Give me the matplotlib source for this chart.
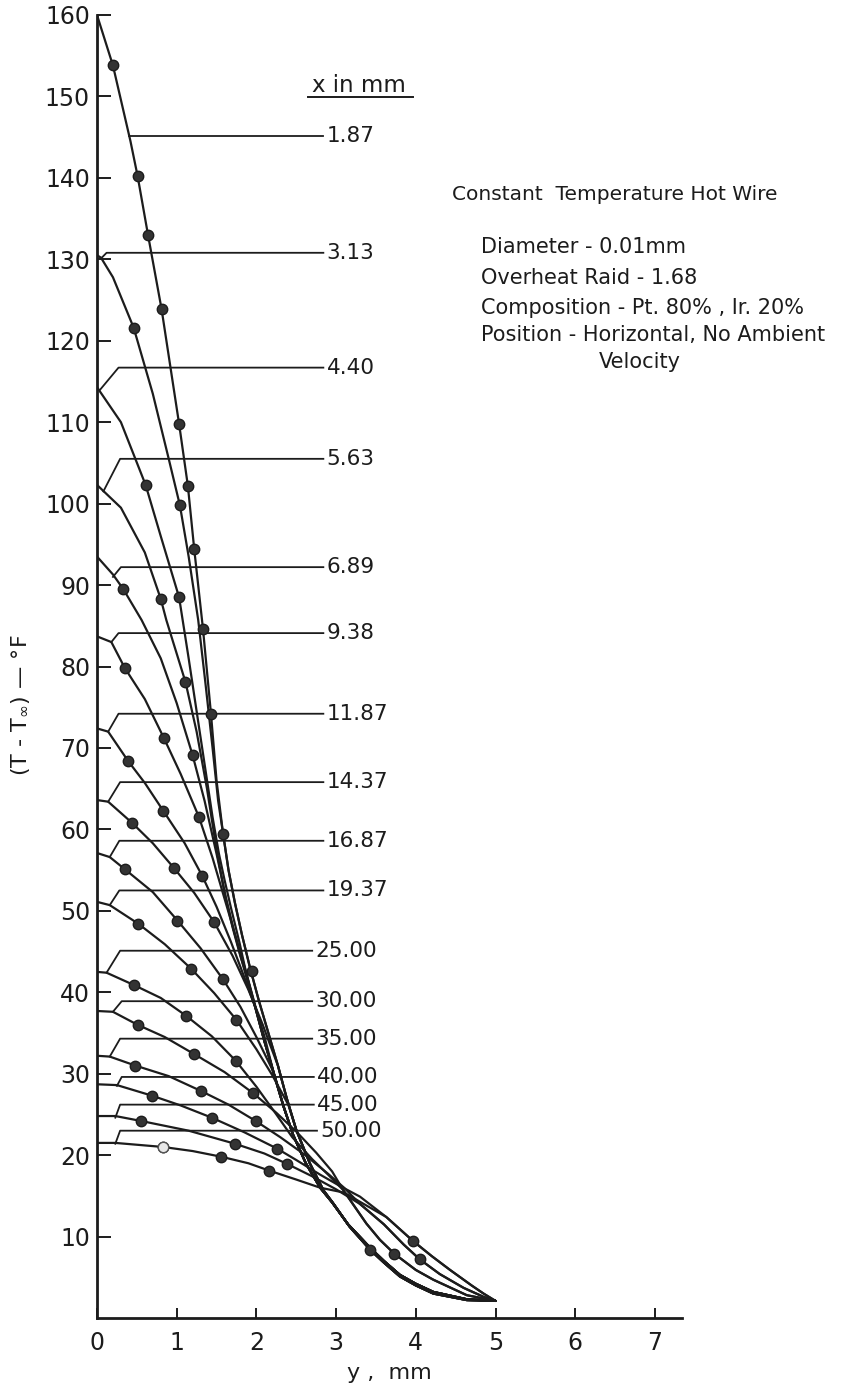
import numpy as np
from matplotlib import pyplot as plt
from matplotlib.lines import Line2D

# stations, x in mm
stations = ['1.87', '3.13', '4.40', '5.63', '6.89', '9.38', '11.87', '14.37',
            '16.87', '19.37', '25.00', '30.00', '35.00', '40.00', '45.00', '50.00']

# own part of every profile (y in mm, T - Tinf in F)
curve_y = [
    [0, 0.2, 0.42, 0.51, 0.64, 0.81, 1.03, 1.14, 1.22, 1.33, 1.43, 1.5],
    [0, 0.05, 0.2, 0.46, 0.7, 0.9, 1.04, 1.15, 1.27, 1.36, 1.45, 1.52],
    [0, 0.3, 0.61, 0.8, 1.03, 1.15, 1.25, 1.35, 1.45, 1.53, 1.6, 1.68],
    [0, 0.3, 0.6, 0.8, 0.87, 1.11, 1.25, 1.38, 1.5, 1.6, 1.7, 1.8],
    [0, 0.2, 0.33, 0.56, 0.8, 1.0, 1.2, 1.35, 1.5, 1.62, 1.72, 1.82, 1.92],
    [0, 0.18, 0.35, 0.6, 0.84, 1.05, 1.28, 1.45, 1.6, 1.75, 1.87, 1.97],
    [0, 0.14, 0.39, 0.6, 0.83, 1.1, 1.32, 1.5, 1.68, 1.85, 2.0, 2.1],
    [0, 0.14, 0.44, 0.7, 0.97, 1.22, 1.47, 1.7, 1.9, 2.08, 2.17],
    [0, 0.16, 0.35, 0.7, 1.01, 1.3, 1.58, 1.8, 2.0, 2.2],
    [0, 0.16, 0.52, 0.85, 1.18, 1.47, 1.75, 2.0, 2.2, 2.4],
    [0, 0.12, 0.46, 0.8, 1.12, 1.44, 1.74, 2.0, 2.25, 2.45],
    [0, 0.2, 0.51, 0.85, 1.22, 1.6, 1.96, 2.25, 2.5, 2.75, 2.95],
    [0, 0.16, 0.48, 0.9, 1.3, 1.65, 1.99, 2.3, 2.6, 2.9, 3.1],
    [0, 0.25, 0.69, 1.05, 1.44, 1.85, 2.26, 2.5, 2.8, 3.05],
    [0, 0.23, 0.55, 1.15, 1.73, 2.1, 2.39, 2.7, 3.0],
    [0, 0.23, 0.83, 1.2, 1.56, 1.9, 2.16, 2.5, 2.8, 3.1],
]
curve_t = [
    [160, 153.8, 144.5, 140.2, 133, 123.9, 109.8, 102.2, 94.4, 84.6, 74.2, 66],
    [130.5, 130.2, 127.8, 121.6, 113.5, 105.5, 99.8, 93.5, 85.7, 78, 70, 63.5],
    [114.3, 110, 102.3, 96, 88.5, 81, 74.5, 68, 61.5, 57, 53.8, 50.4],
    [102.3, 99.5, 94, 88.3, 85.7, 78.1, 72, 65, 57.5, 52.2, 48.0, 44.4],
    [93.5, 91.3, 89.5, 85.7, 81, 75.5, 69.1, 63.5, 57, 51.5, 47.5, 43.8, 40.2],
    [83.7, 83.0, 79.8, 76, 71.2, 66.8, 61.5, 56.5, 51.5, 46.5, 42.5, 38.9],
    [72.4, 72.0, 68.4, 65.7, 62.3, 58.3, 54.3, 50.5, 46.2, 41.8, 37.8, 34.6],
    [63.6, 63.4, 60.8, 58.3, 55.2, 52.2, 48.6, 44.5, 40.3, 36.0, 33.6],
    [57.1, 56.6, 55.1, 52.3, 48.8, 45.4, 41.6, 38.2, 34.5, 30.5],
    [51.1, 50.7, 48.4, 45.9, 42.9, 39.9, 36.6, 33.0, 29.8, 26.2],
    [42.5, 42.4, 40.9, 39.3, 37.1, 34.6, 31.6, 28.4, 25.0, 22.2],
    [37.7, 37.6, 36.0, 34.5, 32.4, 30.2, 27.6, 25.2, 22.9, 20.3, 18.0],
    [32.2, 32.1, 31.0, 29.7, 27.9, 26.2, 24.2, 22.2, 20.1, 17.7, 16.0],
    [28.7, 28.6, 27.3, 26.1, 24.6, 22.8, 20.8, 19.4, 17.6, 16.2],
    [24.8, 24.8, 24.2, 23.0, 21.4, 20.2, 18.9, 17.4, 15.8],
    [21.5, 21.5, 21.0, 20.5, 19.8, 19.0, 18.1, 17.0, 16.0, 15.4],
]
# which common tail each profile runs into
curve_tail = ['A', 'A', 'L', 'L', 'L', 'L', 'L', 'A',
              'L', 'A', 'B', 'B', 'C', 'D', 'C', 'D']

# common tails, all ending at y = 5 mm
tail_y = {
    'A': [1.58, 1.65, 1.73, 1.82, 1.92, 2.03, 2.15, 2.27, 2.38, 2.5, 2.67, 2.84,
          2.97, 3.17, 3.43, 3.6, 3.8, 4.0, 4.22, 4.64, 5.0],
    'L': [1.62, 1.70, 1.79, 1.88, 1.99, 2.1, 2.22, 2.34, 2.46, 2.62, 2.8, 2.95,
          3.15, 3.43, 3.6, 3.8, 4.0, 4.22, 4.64, 5.0],
    'B': [2.7, 2.9, 3.09, 3.38, 3.55, 3.73, 4.0, 4.22, 4.64, 5.0],
    'C': [3.3, 3.6, 3.85, 4.05, 4.3, 4.6, 4.85, 5.0],
    'D': [3.3, 3.63, 3.96, 4.2, 4.43, 4.7, 4.85, 5.0],
}
tail_t = {
    'A': [59.6, 55, 51, 47, 43, 39, 35, 31, 27, 23.1, 19, 15.7,
          14.0, 11.2, 8.35, 6.8, 5.1, 4.0, 3.0, 2.2, 2.1],
    'L': [54, 50, 46, 42, 38, 34, 30, 26, 22.5, 19, 16, 14.2,
          11.5, 8.6, 7.0, 5.3, 4.2, 3.2, 2.3, 2.1],
    'B': [19.5, 17.6, 15.7, 11.6, 9.6, 7.9, 5.9, 4.7, 2.8, 2.1],
    'C': [14.0, 11.5, 9.0, 7.2, 5.4, 3.7, 2.6, 2.1],
    'D': [14.9, 12.4, 9.5, 7.6, 5.9, 4.0, 3.0, 2.1],
}

# measured points
dot_y = [
    [0.2, 0.51, 0.64, 0.81, 1.03, 1.14, 1.22, 1.33, 1.43],
    [0.46, 1.04, 1.58], [0.61, 1.03, 1.94], [0.80, 1.11], [0.33, 1.2],
    [0.35, 0.84, 1.28], [0.39, 0.83, 1.32], [0.44, 0.97, 1.47],
    [0.35, 1.01, 1.58], [0.52, 1.18, 1.75], [0.46, 1.12, 1.74],
    [0.51, 1.22, 1.96], [0.48, 1.3, 1.99], [0.69, 1.44, 2.26],
    [0.55, 1.73, 2.39], [0.83, 1.56, 2.16],
]
dot_t = [
    [153.8, 140.2, 133, 123.9, 109.8, 102.2, 94.4, 84.6, 74.2],
    [121.6, 99.8, 59.4], [102.3, 88.5, 42.6], [88.3, 78.1], [89.5, 69.1],
    [79.8, 71.2, 61.5], [68.4, 62.3, 54.3], [60.8, 55.2, 48.6],
    [55.1, 48.8, 41.6], [48.4, 42.9, 36.6], [40.9, 37.1, 31.6],
    [36.0, 32.4, 27.6], [31.0, 27.9, 24.2], [27.3, 24.6, 20.8],
    [24.2, 21.4, 18.9], [21.0, 19.8, 18.1],
]
tail_dot_y = [3.43, 3.73, 3.96, 4.05]
tail_dot_t = [8.35, 7.9, 9.5, 7.2]

# label leaders: start on the curve, knee, horizontal level, end
lead_x0 = [0.405, 0.05, 0.04, 0.08, 0.2, 0.18, 0.14, 0.14, 0.16, 0.16,
           0.12, 0.2, 0.16, 0.25, 0.23, 0.23]
lead_t0 = [145.2, 130.1, 114.0, 101.5, 91.0, 83.0, 72.0, 63.4, 56.6, 50.7,
           42.4, 37.6, 32.1, 28.5, 24.6, 21.4]
lead_x1 = [0.405, 0.12, 0.27, 0.29, 0.3, 0.27, 0.27, 0.29, 0.28, 0.28,
           0.29, 0.31, 0.29, 0.31, 0.29, 0.29]
lead_t = [145.2, 130.8, 116.7, 105.5, 92.2, 84.1, 74.2, 65.8, 58.6, 52.5,
          45.1, 38.9, 34.3, 29.6, 26.2, 23.0]
lead_end = [2.84, 2.84, 2.84, 2.84, 2.84, 2.84, 2.84, 2.84, 2.84, 2.84,
            2.70, 2.70, 2.70, 2.72, 2.72, 2.76]

info_lines = ['Diameter - 0.01mm', 'Overheat Raid - 1.68',
              'Composition - Pt. 80% , Ir. 20%',
              'Position - Horizontal, No Ambient']

INK = '#1c1c1c'


def main():
    plt.rcParams['font.family'] = ['DejaVu Sans']
    fig = plt.figure(figsize=(8.46, 13.88), dpi=100)
    ax = fig.add_axes([97 / 846, 1 - 1318 / 1388, 585 / 846, 1303 / 1388])

    for i in range(len(stations)):
        t_last = curve_t[i][-1]
        ty = tail_y[curve_tail[i]]
        tt = tail_t[curve_tail[i]]
        keep = [k for k in range(len(tt)) if tt[k] < t_last - 1.0]
        ys = curve_y[i] + [ty[k] for k in keep]
        ts = curve_t[i] + [tt[k] for k in keep]
        ax.plot(ys, ts, color=INK, lw=1.6, solid_joinstyle='round',
                solid_capstyle='round', zorder=3)

        ax.plot(dot_y[i], dot_t[i], 'o', ms=7.5, mfc='#333333', mec=INK,
                mew=1.0, zorder=4)

        # leader to the station label
        ax.plot([lead_x0[i], lead_x1[i], lead_end[i]],
                [lead_t0[i], lead_t[i], lead_t[i]],
                color=INK, lw=1.3, zorder=2)
        ax.text(lead_end[i] + 0.04, lead_t[i], stations[i], fontsize=15.5,
                ha='left', va='center', color=INK)

    # open symbol on the 50.00 profile
    ax.plot([dot_y[15][0]], [dot_t[15][0]], 'o', ms=7.5, mfc='#e8e8e8',
            mec='#555555', mew=1.0, zorder=5)
    ax.plot(tail_dot_y, tail_dot_t, 'o', ms=7.5, mfc='#333333', mec=INK,
            mew=1.0, zorder=4)

    ax.set_xlim(0, 7.34)
    ax.set_ylim(0, 160)
    for side in ['top', 'right']:
        ax.spines[side].set_visible(False)
    for side in ['left', 'bottom']:
        ax.spines[side].set_linewidth(2.0)
        ax.spines[side].set_color(INK)

    ax.set_xticks(np.arange(0, 8))
    ax.set_xticklabels([str(v) for v in range(8)])
    ax.set_yticks(np.arange(10, 161, 10))
    ax.set_yticklabels([str(v) for v in range(10, 161, 10)])
    ax.tick_params(axis='x', direction='in', length=7, width=1.4,
                   labelsize=17, pad=9, colors=INK)
    ax.tick_params(axis='y', direction='in', length=10, width=1.4,
                   labelsize=17, pad=5, colors=INK)

    ax.set_xlabel('y ,  mm', fontsize=16, color=INK, labelpad=6)
    fig.text(21 / 846, 1 - 705 / 1388, r'(T - T$_\infty$) — °F',
             rotation=90, fontsize=16, ha='center', va='center', color=INK)

    # column header with underline
    fig.text(359 / 846, 1 - 86 / 1388, 'x in mm', fontsize=16.5,
             ha='center', va='center', color=INK)
    fig.add_artist(Line2D([308 / 846, 413 / 846], [1 - 97 / 1388, 1 - 97 / 1388],
                          color=INK, lw=1.4))

    fig.text(452 / 846, 1 - 195 / 1388, 'Constant  Temperature Hot Wire',
             fontsize=14.5, ha='left', va='center', color=INK)
    rows = [246.7, 278, 308, 335]
    for txt, py in zip(info_lines, rows):
        fig.text(481 / 846, 1 - py / 1388, txt, fontsize=15,
                 ha='left', va='center', color=INK)
    fig.text(640 / 846, 1 - 362 / 1388, 'Velocity', fontsize=15,
             ha='center', va='center', color=INK)

    fig.savefig('out.png', dpi=100)


if __name__ == "__main__":
    main()
